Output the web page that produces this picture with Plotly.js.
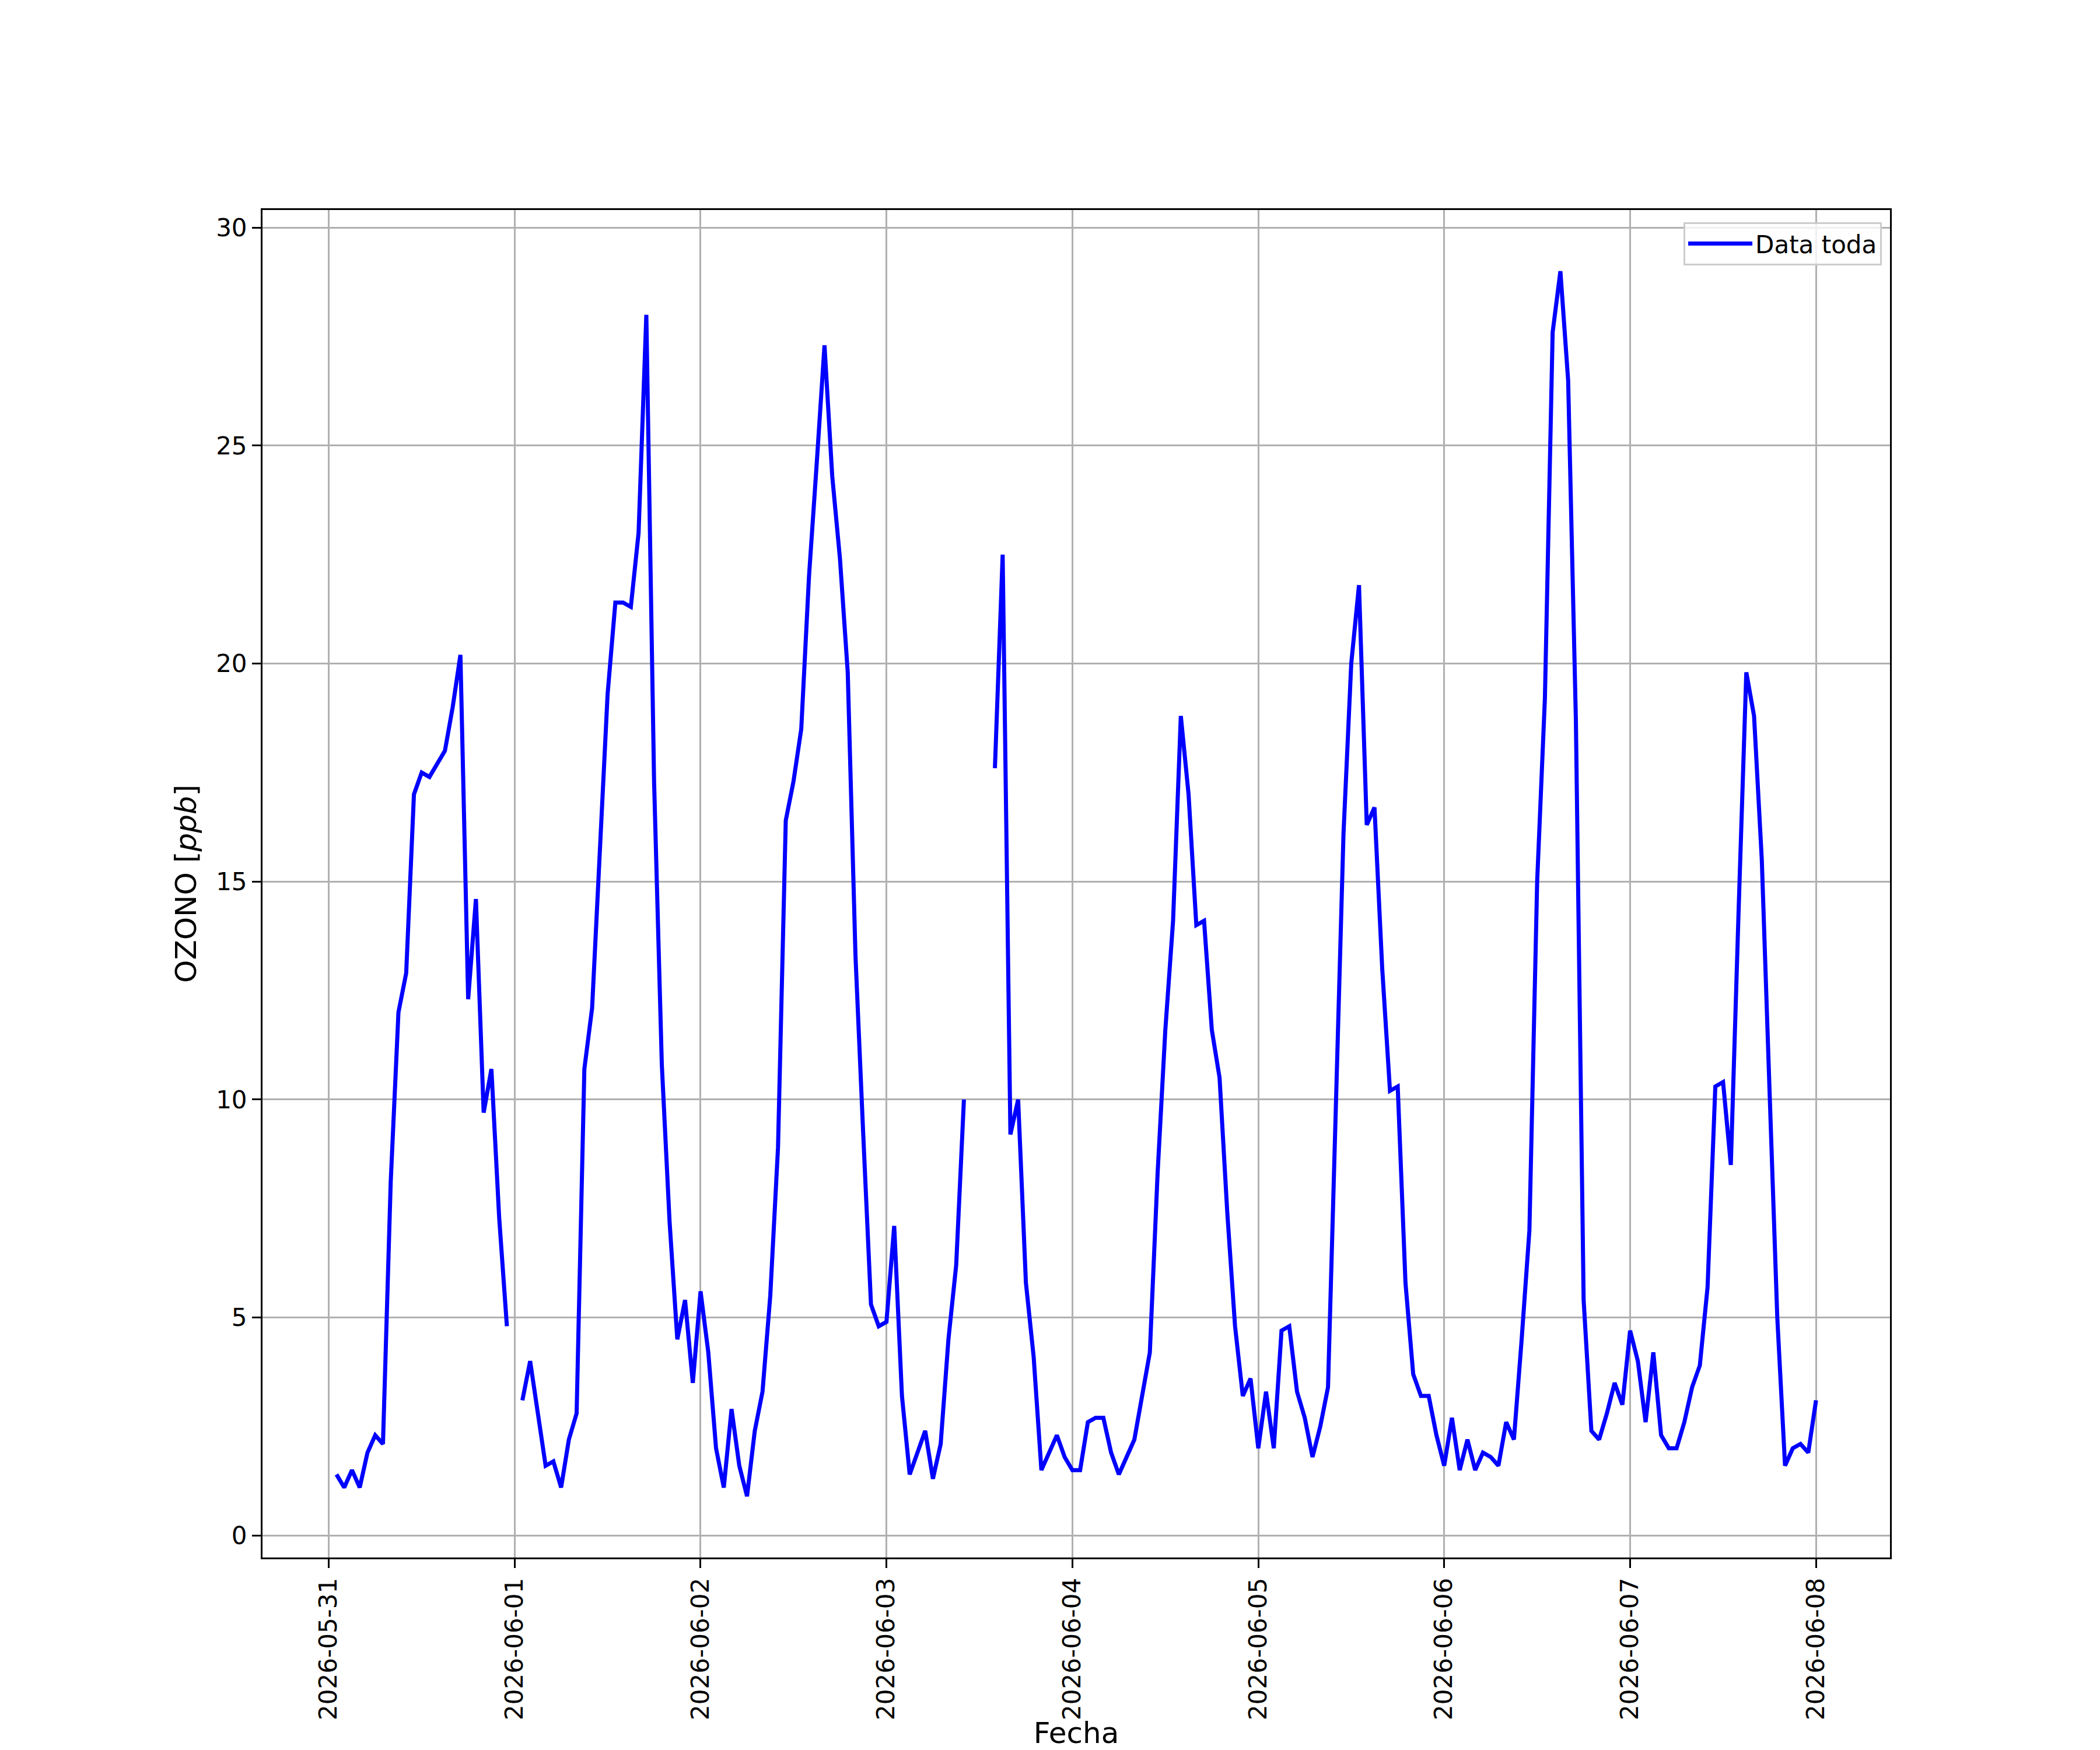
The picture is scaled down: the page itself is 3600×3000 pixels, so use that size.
<!DOCTYPE html>
<html>
<head>
<meta charset="utf-8">
<script src="https://cdn.plot.ly/plotly-3.0.1.min.js"></script>
<style>html,body{margin:0;padding:0;background:#ffffff;}</style>
</head>
<body>
<div id="chart" style="width:3600px;height:3000px;"></div>
<script>
// Hourly OZONO values [ppb]; each array holds hours 01:00 ... 24:00 (= next day 00:00) of that date
const firstHour = "2026-05-31T01:00:00";
const d0531 = [1.4,1.1,1.5,1.1,1.9,2.3,2.1,8.1,12.0,12.9,17.0,17.5,17.4,17.7,18.0,19.0,20.2,12.3,14.6,9.7,10.7,7.3,4.8,null];
const d0601 = [3.1,4.0,2.8,1.6,1.7,1.1,2.2,2.8,10.7,12.1,15.7,19.3,21.4,21.4,21.3,23.0,28.0,17.3,10.8,7.2,4.5,5.4,3.5,5.6];
const d0602 = [4.2,2.0,1.1,2.9,1.6,0.9,2.4,3.3,5.5,8.9,16.4,17.3,18.5,22.0,24.6,27.3,24.3,22.4,19.8,13.3,9.2,5.3,4.8,4.9];
const d0603 = [7.1,3.2,1.4,1.9,2.4,1.3,2.1,4.5,6.2,10.0,null,null,null,17.6,22.5,9.2,10.0,5.8,4.1,1.5,1.9,2.3,1.8,1.5];
const d0604 = [1.5,2.6,2.7,2.7,1.9,1.4,1.8,2.2,3.2,4.2,8.3,11.6,14.1,18.8,17.0,14.0,14.1,11.6,10.5,7.4,4.8,3.2,3.6,2.0];
const d0605 = [3.3,2.0,4.7,4.8,3.3,2.7,1.8,2.5,3.4,9.6,16.1,20.0,21.8,16.3,16.7,13.0,10.2,10.3,5.8,3.7,3.2,3.2,2.3,1.6];
const d0606 = [2.7,1.5,2.2,1.5,1.9,1.8,1.6,2.6,2.2,4.5,7.0,15.0,19.2,27.6,29.0,26.5,18.7,5.4,2.4,2.2,2.8,3.5,3.0,4.7];
const d0607 = [4.0,2.6,4.2,2.3,2.0,2.0,2.6,3.4,3.9,5.7,10.3,10.4,8.5,14.3,19.8,18.8,15.5,10.2,5.0,1.6,2.0,2.1,1.9,3.1];

const tickLabels = ["2026-05-31","2026-06-01","2026-06-02","2026-06-03","2026-06-04","2026-06-05","2026-06-06","2026-06-07","2026-06-08"];
const seriesName = "Data toda";
const xTitle = "Fecha";
const yTitle = "OZONO [<i>ppb</i>]";
const yTickVals = [0,5,10,15,20,25,30];

const values = [].concat(d0531,d0601,d0602,d0603,d0604,d0605,d0606,d0607);
const HOUR = 3600000;
const t0 = Date.parse(firstHour + "Z");
function fmt(ms){ return new Date(ms).toISOString().slice(0,19).replace("T"," "); }
const times = values.map((v,i)=>fmt(t0 + i*HOUR));

// matplotlib-like 5% auto margins
const tEnd = t0 + (values.length-1)*HOUR;
const xpad = 0.05*(tEnd - t0);
const nums = values.filter(v=>v!==null);
const ymin = Math.min(...nums), ymax = Math.max(...nums);
const ypad = 0.05*(ymax - ymin);

const FONT = "DejaVu Sans, Liberation Sans, sans-serif";
const FS = 42;
const FS_TITLE = 50;

const trace = {
  x: times, y: values, type: "scatter", mode: "lines", name: seriesName,
  connectgaps: false,
  line: {color: "#0000ff", width: 7}
};

const layout = {
  width: 3600, height: 3000,
  paper_bgcolor: "#ffffff", plot_bgcolor: "#ffffff",
  margin: {l: 450, r: 360, t: 360, b: 330, pad: 0},
  font: {family: FONT, size: FS, color: "#000000"},
  showlegend: true,
  legend: {
    x: 0.995, y: 0.991, xanchor: "right", yanchor: "top",
    bgcolor: "rgba(255,255,255,0.8)", bordercolor: "#cccccc", borderwidth: 3,
    font: {family: FONT, size: FS, color: "#000000"},
    itemwidth: 110
  },
  xaxis: {
    type: "date",
    range: [fmt(t0 - xpad), fmt(tEnd + xpad)],
    tickmode: "array",
    tickvals: tickLabels.map(s=>s+" 00:00:00"),
    ticktext: tickLabels,
    tickangle: -90,
    ticks: "outside", ticklen: 15, tickwidth: 3, tickcolor: "#000000",
    showgrid: true, gridcolor: "#b0b0b0", gridwidth: 3,
    showline: true, linecolor: "#000000", linewidth: 3, mirror: true,
    zeroline: false,
    tickfont: {family: FONT, size: FS, color: "#000000"},
    title: {text: xTitle, font: {family: FONT, size: FS_TITLE, color: "#000000"}, standoff: 22}
  },
  yaxis: {
    range: [ymin - ypad, ymax + ypad],
    tickmode: "array",
    tickvals: yTickVals,
    ticktext: yTickVals.map(String),
    ticks: "outside", ticklen: 15, tickwidth: 3, tickcolor: "#000000",
    showgrid: true, gridcolor: "#b0b0b0", gridwidth: 3,
    showline: true, linecolor: "#000000", linewidth: 3, mirror: true,
    zeroline: false,
    tickfont: {family: FONT, size: FS, color: "#000000"},
    title: {text: yTitle, font: {family: FONT, size: FS_TITLE, color: "#000000"}, standoff: 18}
  }
};

Plotly.newPlot("chart", [trace], layout, {displayModeBar: false, staticPlot: true});
</script>
</body>
</html>
